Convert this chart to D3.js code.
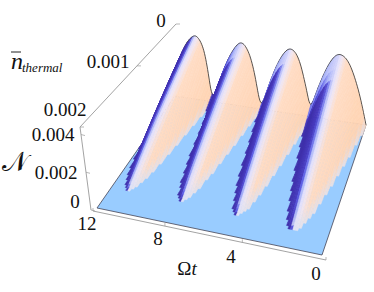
<!DOCTYPE html>
<html>
<head>
<meta charset="utf-8">
<script src="https://cdn.jsdelivr.net/npm/d3@7"></script>
<style>
  html, body { margin: 0; padding: 0; background: #fff; }
  text { font-family: "Liberation Serif", "Times New Roman", serif; font-size: 19px; fill: #111; }
</style>
</head>
<body>
<svg id="chart" width="374" height="292"></svg>
<script>
// ridge height along the back edge (nth = 0), read every 0.25 of Omega t, in 1e-3
var omegaT = d3.range(49).map(function(i) { return i * 0.25; });
var backProfile = [
  0, 0.95, 1.8, 2.5, 3.1, 3.55, 3.8, 3.9, 3.8, 3.45, 2.9, 2.2, 1.4,
  0.4, 1.3, 2.1, 2.85, 3.4, 3.7, 3.8, 3.65, 3.25, 2.7, 1.95, 1.05,
  0.1, 0.8, 1.7, 2.45, 3.05, 3.45, 3.7, 3.7, 3.4, 2.95, 2.35, 1.55,
  0.45, 0.3, 1.2, 2.05, 2.8, 3.3, 3.6, 3.75, 3.6, 3.3, 2.8, 2.05
];
// crest of each lobe, in Omega t
var peakAt = [1.75, 4.75, 7.85, 11];
// how far the ridge has sunk going toward larger nth, in 1e-3
var nthKnots = [0, 0.0005, 0.001, 0.0015, 0.002];
var nthDrop  = [0, 1.08, 2.16, 3.24, 4.32];

var omegaTicks = [0, 4, 8, 12];
var nthTicks = [0, 0.001, 0.002];
var entTicks = [0, 0.002, 0.004];

// box corners on screen, [t, nth side, height]
var corners = {
  t0:  { front: { lo: [322, 255], hi: [331, 158] }, back: { lo: [366, 125], hi: [371, 50] } },
  t12: { front: { lo: [97, 208],  hi: [86, 125] },  back: { lo: [175, 96],  hi: [182, 22] } }
};
var depthT = [1, 1.12], depthN = [1, 1.46];

var tScale = d3.scaleLinear().domain([0, 12]).range([0, 1]);
var nScale = d3.scaleLinear().domain([0.002, 0]).range([0, 1]);
var zScale = d3.scaleLinear().domain([0, 4.4]).range([0, 1]);
var dropScale = d3.scaleLinear().domain(nthKnots).range(nthDrop);
var ridge = d3.interpolateBasis(backProfile);

function project(t, nth, z) {
  var u = tScale(t), v = nScale(nth), w = zScale(z), x = 0, y = 0, sum = 0;
  [['t0', 1 - u, depthT[0]], ['t12', u, depthT[1]]].forEach(function(a) {
    [['front', 1 - v, depthN[0]], ['back', v, depthN[1]]].forEach(function(b) {
      [['lo', 1 - w], ['hi', w]].forEach(function(c) {
        var k = a[1] * a[2] * b[1] * b[2] * c[1], p = corners[a[0]][b[0]][c[0]];
        x += k * p[0]; y += k * p[1]; sum += k;
      });
    });
  });
  return [x / sum, y / sum];
}

function height(t, nth) {
  return Math.max(0, ridge(Math.min(t, 12) / 12) - dropScale(nth));
}

// colour follows the place across a lobe: 1 is the rim on the large t side, negative is past the crest
var shade = d3.scaleLinear()
  .domain([1, 0.42, 0.26, 0.12, -0.05, -0.16, -0.3, -1])
  .range(['#3f30aa', '#4638bc', '#5f60e6', '#aab4f8', '#e6e2fb', '#f4e6ea', '#ffdcc4', '#ffd4b4'])
  .clamp(true);
var faded = d3.scaleLinear().domain([0, 0.3]).range([0.8, 0]).clamp(true);
// the flank turns edge-on toward the back, so the band there covers more of it
var bandGain = d3.scaleLinear().domain([0, 0.0017]).range([1.7, 0.85]).clamp(true);

function lobeWidth(peak, nth, step) {
  var t = peak;
  while (t > 0 && t < 12 && height(t, nth) > 0) t += step;
  return Math.abs(t - peak) || 1;
}

var svg = d3.select('#chart');
var line = d3.line();

// floor
svg.append('path')
  .attr('d', line([project(0, 0.002, 0), project(12, 0.002, 0), project(12, 0, 0), project(0, 0, 0)]) + 'Z')
  .attr('fill', '#99ccff')
  .attr('stroke', '#445')
  .attr('stroke-width', 0.8);

// surface mesh, far rows first and large t first
var dt = 0.125, rows = d3.range(0, 0.002 + 1e-9, 0.002 / 60);
var columns = d3.range(12 - dt, -1e-9, -dt);
var surface = svg.append('g');

rows.slice(0, -1).forEach(function(nth, r) {
  var next = rows[r + 1];
  var upper = peakAt.map(function(p) { return lobeWidth(p, nth, 0.02); });

  function cellColor(t) {
    var mid = t + dt / 2, i = d3.bisectLeft([3.2, 6.3, 9.45], mid);
    var q = mid > peakAt[i] ? bandGain(nth) * (mid - peakAt[i]) / upper[i] : (mid - peakAt[i]) / 1.4;
    var mean = (height(t, nth) + height(t + dt, nth) + height(t, next) + height(t + dt, next)) / 4;
    var c = shade(q);
    return q < 0.2 ? d3.interpolateRgb(c, '#dfe2f2')(faded(mean)) : c;
  }

  var cells = columns.filter(function(t) {
    return height(t, nth) + height(t + dt, nth) + height(t, next) + height(t + dt, next) > 0;
  });
  surface.append('g').selectAll('path')
    .data(cells)
    .enter()
    .append('path')
    .attr('d', function(t) {
      return line([
        project(t, nth, height(t, nth)),
        project(t + dt, nth, height(t + dt, nth)),
        project(t + dt, next, height(t + dt, next)),
        project(t, next, height(t, next))
      ]) + 'Z';
    })
    .attr('fill', cellColor)
    .attr('stroke', cellColor)
    .attr('stroke-width', 0.5);

  // outline along the back edge goes right after the first row
  if (r === 0) {
    surface.append('path')
      .attr('d', line(d3.range(0, 12 + 1e-9, dt / 2).map(function(t) { return project(t, 0, height(t, 0)); })))
      .attr('fill', 'none')
      .attr('stroke', '#444')
      .attr('stroke-width', 0.9);
  }
});

// box axes sit a little outside the surface
var axisGrey = '#999';
function between(a, b, wa, wb, f) {
  var k = (1 - f) * wa + f * wb;
  return [((1 - f) * wa * a[0] + f * wb * b[0]) / k, ((1 - f) * wa * a[1] + f * wb * b[1]) / k];
}
function drawAxis(from, to, wa, wb, scale, ticks, tickDx, tickDy) {
  svg.append('line')
    .attr('x1', from[0]).attr('y1', from[1]).attr('x2', to[0]).attr('y2', to[1])
    .attr('stroke', axisGrey).attr('stroke-width', 0.9);
  svg.selectAll(null)
    .data(ticks)
    .enter()
    .append('line')
    .each(function(d) {
      var p = between(from, to, wa, wb, scale(d));
      d3.select(this)
        .attr('x1', p[0]).attr('y1', p[1])
        .attr('x2', p[0] + tickDx).attr('y2', p[1] + tickDy);
    })
    .attr('stroke', axisGrey).attr('stroke-width', 0.7);
}

var tAxisScale = d3.scaleLinear().domain([0, 12]).range([0, 1]);
drawAxis([326, 260], [93, 211], depthT[0], depthT[1], tAxisScale, omegaTicks, 0, -3);
var nAxisScale = d3.scaleLinear().domain([0, 0.002]).range([0, 1]);
drawAxis([176, 24], [80, 127], depthN[1], depthN[0], nAxisScale, nthTicks, 4, 0);
var zAxisScale = d3.scaleLinear().domain([0, 0.0044]).range([0, 1]);
drawAxis([91, 210], [80, 127], 1, 1, zAxisScale, entTicks, 4, 1);

function label(x, y, s, anchor) {
  return svg.append('text').attr('x', x).attr('y', y).attr('text-anchor', anchor || 'middle').text(s);
}

// tick labels
var tLabelAt = [[316, 280], [231, 263], [158, 245], [87, 230]];
omegaTicks.forEach(function(d, i) { label(tLabelAt[i][0], tLabelAt[i][1], d3.format('d')(d)); });
var nLabelAt = [[161, 27], [108, 68], [65, 116]];
nthTicks.forEach(function(d, i) { label(nLabelAt[i][0], nLabelAt[i][1], d === 0 ? '0' : d3.format('.3f')(d)); });
var zLabelAt = [[75, 208], [56, 179], [53, 141]];
entTicks.forEach(function(d, i) { label(zLabelAt[i][0], zLabelAt[i][1], d === 0 ? '0' : d3.format('.3f')(d)); });

// axis titles
var om = label(187, 275, '\u03a9');
om.append('tspan').style('font-style', 'italic').text('t');

label(11, 69, 'n', 'start').style('font-style', 'italic').style('font-size', '24px');
svg.append('line').attr('x1', 11).attr('x2', 21).attr('y1', 52).attr('y2', 52)
  .attr('stroke', '#222').attr('stroke-width', 1);
label(22, 72, 'thermal', 'start').style('font-size', '13px').style('font-style', 'italic');

label(15, 171, '\ud835\udca9').style('font-size', '27px');
</script>
</body>
</html>
